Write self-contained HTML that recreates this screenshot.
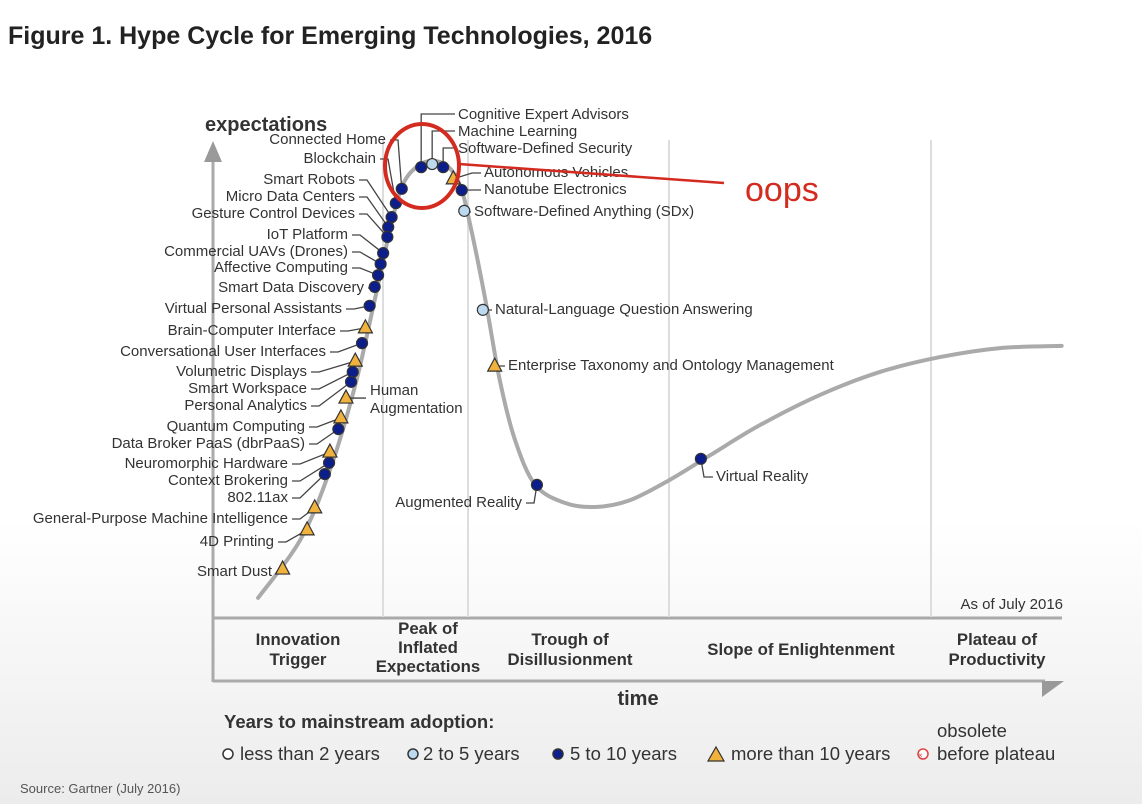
<!DOCTYPE html>
<html><head><meta charset="utf-8"><style>
body{margin:0;width:1142px;height:804px;overflow:hidden;background:linear-gradient(#fff 0,#fff 520px,#ececec 804px);font-family:"Liberation Sans",sans-serif}
svg text{font-family:"Liberation Sans",sans-serif}
</style></head><body>
<svg id="c" width="1142" height="804">
<text x="8" y="44" font-size="25" font-weight="bold" fill="#222">Figure 1. Hype Cycle for Emerging Technologies, 2016</text>
<g id="frame">
<line x1="213" y1="158" x2="213" y2="682" stroke="#aaa" stroke-width="3"/>
<polygon points="204,162 222,162 213,141" fill="#999"/>
<line x1="213" y1="618" x2="1062" y2="618" stroke="#aaa" stroke-width="3"/>
<line x1="213" y1="681" x2="1045" y2="681" stroke="#aaa" stroke-width="3"/>
<polygon points="1042,681 1064,681 1042,697" fill="#999"/>
<line x1="383" y1="140" x2="383" y2="617" stroke="#ddd" stroke-width="2"/>
<line x1="468" y1="140" x2="468" y2="617" stroke="#ddd" stroke-width="2"/>
<line x1="669" y1="140" x2="669" y2="617" stroke="#ddd" stroke-width="2"/>
<line x1="931" y1="140" x2="931" y2="617" stroke="#ddd" stroke-width="2"/>
</g>
<text x="205" y="131" font-size="20" font-weight="bold" fill="#333">expectations</text>
<text x="638" y="705" font-size="20" font-weight="bold" fill="#333" text-anchor="middle">time</text>
<text x="1063" y="609" font-size="15" fill="#333" text-anchor="end">As of July 2016</text>
<g font-size="16.8" font-weight="bold" fill="#333" text-anchor="middle">
<text x="298" y="645">Innovation</text><text x="298" y="665">Trigger</text>
<text x="428" y="634">Peak of</text><text x="428" y="653">Inflated</text><text x="428" y="672">Expectations</text>
<text x="570" y="645">Trough of</text><text x="570" y="665">Disillusionment</text>
<text x="801" y="655">Slope of Enlightenment</text>
<text x="997" y="645">Plateau of</text><text x="997" y="665">Productivity</text>
</g>
<g id="curveG"></g><g id="leaders"></g><g id="marks"></g><g id="labels" font-size="15" fill="#333"></g>
<text x="370" y="395" font-size="15" fill="#333">Human</text>
<text x="370" y="413" font-size="15" fill="#333">Augmentation</text>
<ellipse cx="422" cy="166" rx="37" ry="42" fill="none" stroke="#d42b20" stroke-width="4"/>
<line x1="459" y1="164" x2="724" y2="183" stroke="#d42b20" stroke-width="2.5"/>
<text x="745" y="201" font-size="34" fill="#d42b20">oops</text>
<g font-size="18.5" fill="#333">
<text x="224" y="728" font-weight="bold" font-size="18.5">Years to mainstream adoption:</text>
<circle cx="228" cy="754" r="5" fill="#fff" stroke="#333" stroke-width="1.5"/><text x="240" y="760">less than 2 years</text>
<circle cx="413" cy="754" r="5" fill="#bcd9ef" stroke="#333" stroke-width="1.5"/><text x="423" y="760">2 to 5 years</text>
<circle cx="558" cy="754" r="5" fill="#0c1d8c" stroke="#333" stroke-width="1.5"/><text x="570" y="760">5 to 10 years</text>
<polygon points="708,761 724,761 716,747" fill="#f0b23c" stroke="#333" stroke-width="1.2"/><text x="731" y="760">more than 10 years</text>
<circle cx="923" cy="754" r="5" fill="#fff" stroke="#d44" stroke-width="1.5"/><text x="918" y="758" font-size="8" fill="#d44">×</text>
<text x="937" y="737">obsolete</text><text x="937" y="760">before plateau</text>
</g>
<text x="20" y="793" font-size="13" fill="#555">Source: Gartner (July 2016)</text>
</svg>
<script>
const curveTime=[5.1,10.1,13.6,16.6,18.9,20.7,22.2,24,25.7,27.5,29,30.2,32,33.7,35.5,37.9,41.4,45,49.1,53.8,58.6,64.5,71.6,78.7,85.8,92.9,100.2];
const curveExp=[2.7,15.6,31.1,50,68.9,84.4,94.4,98.7,99.8,98.7,94.4,85.6,68.9,51.1,37.8,27.8,23.8,22.9,24.4,28.9,34.4,41.1,47.8,52.9,56.2,58.2,58.7];
const techNames=["Connected Home","Blockchain","Smart Robots","Micro Data Centers","Gesture Control Devices","IoT Platform","Commercial UAVs (Drones)","Affective Computing","Smart Data Discovery","Virtual Personal Assistants","Brain-Computer Interface","Conversational User Interfaces","Volumetric Displays","Smart Workspace","Personal Analytics","Human Augmentation","Quantum Computing","Data Broker PaaS (dbrPaaS)","Neuromorphic Hardware","Context Brokering","802.11ax","General-Purpose Machine Intelligence","4D Printing","Smart Dust","Cognitive Expert Advisors","Machine Learning","Software-Defined Security","Autonomous Vehicles","Nanotube Electronics","Software-Defined Anything (SDx)","Natural-Language Question Answering","Enterprise Taxonomy and Ontology Management","Augmented Reality","Virtual Reality"];
const techTime=[22.1,21.4,20.9,20.5,20.4,19.9,19.6,19.3,18.9,18.3,17.8,17.4,16.6,16.3,16.1,15.5,14.9,14.6,13.6,13.5,13.0,11.8,10.9,8.0,24.4,25.7,27.0,28.2,29.2,29.5,31.7,33.1,38.1,57.5];
const techExp=[93.6,90.4,87.3,85.1,82.9,79.3,76.9,74.4,71.8,67.6,62.7,59.3,55.3,52.9,50.7,47.1,42.7,40.2,35.1,32.7,30.2,22.7,17.8,9.1,98.4,99.1,98.4,95.8,93.3,88.7,66.7,54.2,27.8,33.6];
const techType=["d","d","d","d","d","d","d","d","d","d","t","d","t","d","d","t","t","d","t","d","d","t","t","t","d","l","d","t","d","l","l","t","d","d"];
// label layout (pixels): x, baseline y, side
const labX=[386,376,355,355,355,348,348,348,364,342,336,326,307,307,307,0,305,305,288,288,288,288,274,272,458,458,458,484,484,474,495,508,522,716];
const labY=[144,163,184,201,218,239,256,272,292,313,335,356,376,393,410,0,431,448,468,485,502,523,546,576,119,136,153,177,194,216,314,370,507,481];
const labSide=["e","e","e","e","e","e","e","e","e","e","e","e","e","e","e","h","e","e","e","e","e","e","e","e","p","p","p","s","s","s","s","s","e","s"];
const xS=t=>215+t*8.45, yS=e=>610-e*4.5;
const NS="http://www.w3.org/2000/svg";
function mk(tag,attrs,parent){const el=document.createElementNS(NS,tag);for(const k in attrs)el.setAttribute(k,attrs[k]);parent.appendChild(el);return el;}
const pts=curveTime.map((t,i)=>[xS(t),yS(curveExp[i])]);
let d=`M${pts[0][0]},${pts[0][1]}`;
for(let i=0;i<pts.length-1;i++){const p0=pts[Math.max(0,i-1)],p1=pts[i],p2=pts[i+1],p3=pts[Math.min(pts.length-1,i+2)];
d+=` C${p1[0]+(p2[0]-p0[0])/6},${p1[1]+(p2[1]-p0[1])/6} ${p2[0]-(p3[0]-p1[0])/6},${p2[1]-(p3[1]-p1[1])/6} ${p2[0]},${p2[1]}`;}
const cv=mk('path',{d:d,fill:'none',stroke:'#aaa','stroke-width':4,'stroke-linecap':'round'},document.getElementById('curveG'));


const LG=document.getElementById('leaders'),MG=document.getElementById('marks'),TG=document.getElementById('labels');
techNames.forEach((n,i)=>{
 const px=xS(techTime[i]),py=yS(techExp[i]),lx=labX[i],ly=labY[i],s=labSide[i];
 let ld;
 if(s==='e') ld=`M${lx+4},${ly-4} H${lx+12} L${px},${py}`;
 else if(s==='s') ld=`M${px},${py} L${lx-12},${ly-4} H${lx-3}`;
 else if(s==='p') ld=`M${px},${py} V${ly-5} H${lx-3}`;
 else ld=`M${px},${py} H${px+20}`;
 const le=mk('path',{d:ld,fill:'none',stroke:'#444','stroke-width':1.3},LG);
 
 
 let m;
 if(techType[i]==='t') m=mk('polygon',{points:`${px-7},${py+5} ${px+7},${py+5} ${px},${py-8}`,fill:'#f0b23c',stroke:'#333','stroke-width':1.2},MG);
 else m=mk('circle',{cx:px,cy:py,r:5.5,fill:techType[i]==='l'?'#bcd9ef':'#0c1d8c',stroke:'#333','stroke-width':1.2},MG);
 
 
 if(s!=='h'){
  const tx=mk('text',{x:lx,y:ly,'text-anchor':s==='e'?'end':'start'},TG);tx.textContent=n;
  
  
 }
});
</script>
</body></html>
